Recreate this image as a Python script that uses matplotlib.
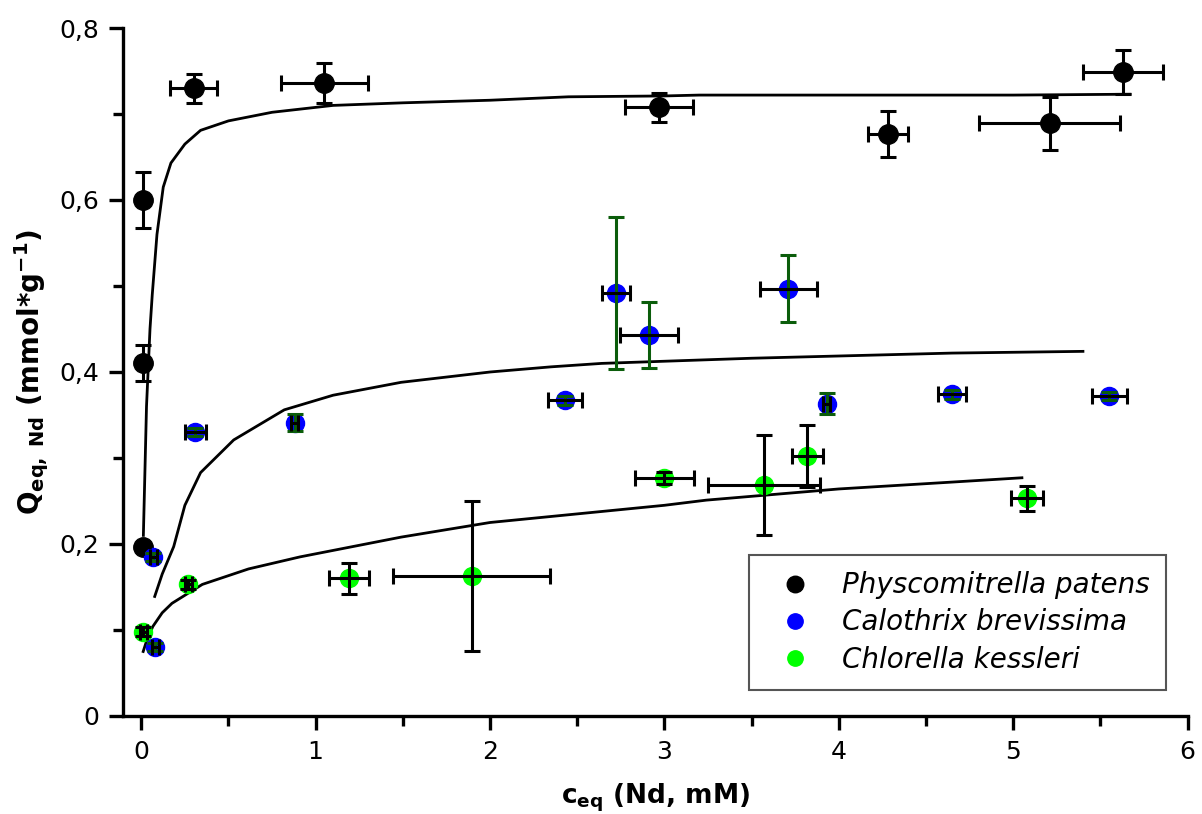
import matplotlib
matplotlib.use('Agg')
import matplotlib.pyplot as plt
from matplotlib.ticker import MultipleLocator, FuncFormatter

plt.rcParams['font.family'] = ['DejaVu Sans']
plt.rcParams['mathtext.fontset'] = 'dejavusans'

# Physcomitrella patens
pp_x = [0.01, 0.01, 0.01, 0.30, 1.05, 2.97, 4.28, 5.21, 5.63]
pp_y = [0.600, 0.410, 0.197, 0.730, 0.736, 0.708, 0.677, 0.689, 0.749]
pp_xerr = [0, 0, 0, 0.135, 0.25, 0.195, 0.115, 0.405, 0.23]
pp_yerr = [0.033, 0.021, 0, 0.017, 0.023, 0.017, 0.027, 0.031, 0.026]

# Calothrix brevissima
cb_x = [0.08, 0.07, 0.31, 0.88, 2.43, 2.72, 2.91, 3.71, 3.93, 4.65, 5.55]
cb_y = [0.080, 0.185, 0.330, 0.341, 0.367, 0.492, 0.443, 0.497, 0.363, 0.374, 0.372]
cb_xerr = [0.02, 0.02, 0.06, 0.02, 0.10, 0.08, 0.167, 0.164, 0.02, 0.08, 0.10]
cb_yerr = [0.005, 0.005, 0.005, 0.01, 0.005, 0.088, 0.038, 0.039, 0.012, 0.005, 0.005]

# Chlorella kessleri
ck_x = [0.01, 0.27, 1.19, 1.895, 3.00, 3.57, 3.82, 5.08]
ck_y = [0.098, 0.153, 0.160, 0.163, 0.277, 0.269, 0.302, 0.253]
ck_xerr = [0.02, 0.02, 0.115, 0.45, 0.167, 0.32, 0.09, 0.09]
ck_yerr = [0.005, 0.005, 0.018, 0.087, 0.007, 0.058, 0.036, 0.015]

# fit curves
fit_pp_x = [0.012, 0.03, 0.05, 0.063, 0.09, 0.126, 0.17, 0.25, 0.34, 0.5, 0.75,
            1.1, 1.5, 2.0, 2.45, 3.0, 3.2, 4.0, 5.0, 5.67]
fit_pp_y = [0.21, 0.36, 0.45, 0.49, 0.56, 0.615, 0.643, 0.665, 0.681, 0.692, 0.702,
            0.71, 0.713, 0.716, 0.720, 0.721, 0.722, 0.722, 0.722, 0.723]
fit_cb_x = [0.077, 0.12, 0.186, 0.25, 0.34, 0.53, 0.82, 1.1, 1.49, 2.0, 2.35, 2.64,
            3.5, 4.65, 5.40]
fit_cb_y = [0.139, 0.165, 0.197, 0.245, 0.283, 0.321, 0.356, 0.373, 0.388, 0.400,
            0.406, 0.410, 0.416, 0.422, 0.424]
fit_ck_x = [0.011, 0.03, 0.066, 0.12, 0.176, 0.35, 0.615, 0.91, 1.49, 2.0, 2.35,
            3.0, 3.24, 4.0, 4.65, 5.05]
fit_ck_y = [0.075, 0.087, 0.104, 0.12, 0.131, 0.153, 0.171, 0.185, 0.208, 0.225,
            0.232, 0.245, 0.251, 0.264, 0.272, 0.277]

names = ['Physcomitrella patens', 'Calothrix brevissima', 'Chlorella kessleri']
dark_green = '#0b5d0b'

fig = plt.figure(figsize=(12.02, 8.14), dpi=100)
ax = fig.add_axes([0.1023, 0.1204, 0.8857, 0.8452])

lw = 2.2
cap = 6

# fit lines
ax.plot(fit_pp_x, fit_pp_y, color='black', lw=2, zorder=2)
ax.plot(fit_cb_x, fit_cb_y, color='black', lw=2, zorder=2)
ax.plot(fit_ck_x, fit_ck_y, color='black', lw=2, zorder=2)

# black series
ax.plot(pp_x, pp_y, 'o', color='black', ms=14, zorder=3, label=names[0])
ax.errorbar(pp_x, pp_y, xerr=pp_xerr, yerr=pp_yerr, fmt='none', ecolor='black',
            elinewidth=lw, capsize=cap, capthick=lw, zorder=4)

# blue series
ax.plot(cb_x, cb_y, 'o', color='#0000ff', ms=13, zorder=3, label=names[1])
ax.errorbar(cb_x, cb_y, yerr=cb_yerr, fmt='none', ecolor=dark_green,
            elinewidth=lw, capsize=cap, capthick=lw, zorder=4)
ax.errorbar(cb_x, cb_y, xerr=cb_xerr, fmt='none', ecolor='black',
            elinewidth=lw, capsize=cap, capthick=lw, zorder=4)

# green series
ax.plot(ck_x, ck_y, 'o', color='#00ff00', ms=13, zorder=3, label=names[2])
ax.errorbar(ck_x, ck_y, xerr=ck_xerr, yerr=ck_yerr, fmt='none', ecolor='black',
            elinewidth=lw, capsize=cap, capthick=lw, zorder=4)

ax.set_xlim(-0.105, 6)
ax.set_ylim(0, 0.8)
ax.spines['top'].set_visible(False)
ax.spines['right'].set_visible(False)
for s in ['left', 'bottom']:
    ax.spines[s].set_linewidth(2.4)

ax.xaxis.set_major_locator(MultipleLocator(1))
ax.xaxis.set_minor_locator(MultipleLocator(0.5))
ax.yaxis.set_major_locator(MultipleLocator(0.2))
ax.yaxis.set_minor_locator(MultipleLocator(0.1))
ax.yaxis.set_major_formatter(FuncFormatter(lambda v, p: ('%g' % round(v, 2)).replace('.', ',')))
ax.tick_params(which='major', direction='out', length=10, width=2.4, labelsize=18, pad=7)
ax.tick_params(which='minor', direction='out', length=7, width=2.4)

ax.set_xlabel(r'c$_{\mathregular{eq}}$ (Nd, mM)', fontsize=19, fontweight='bold', labelpad=13)
ax.set_ylabel(r'Q$_{\mathregular{eq,\ Nd}}$ (mmol*g$^{\mathbf{-1}}$)', fontsize=20,
              fontweight='bold', labelpad=6)

leg = ax.legend(loc='lower left', bbox_to_anchor=(0.623, 0.152, 0.347, 0.165),
                bbox_transform=fig.transFigure, mode='expand', borderaxespad=0,
                fancybox=False, edgecolor='#555555', framealpha=1,
                prop={'style': 'italic', 'size': 20},
                handlelength=2.1, handletextpad=0.67, borderpad=0.6,
                labelspacing=0.33, markerscale=0.85)
leg.get_frame().set_linewidth(1.5)

fig.savefig('out.png', dpi=100)
